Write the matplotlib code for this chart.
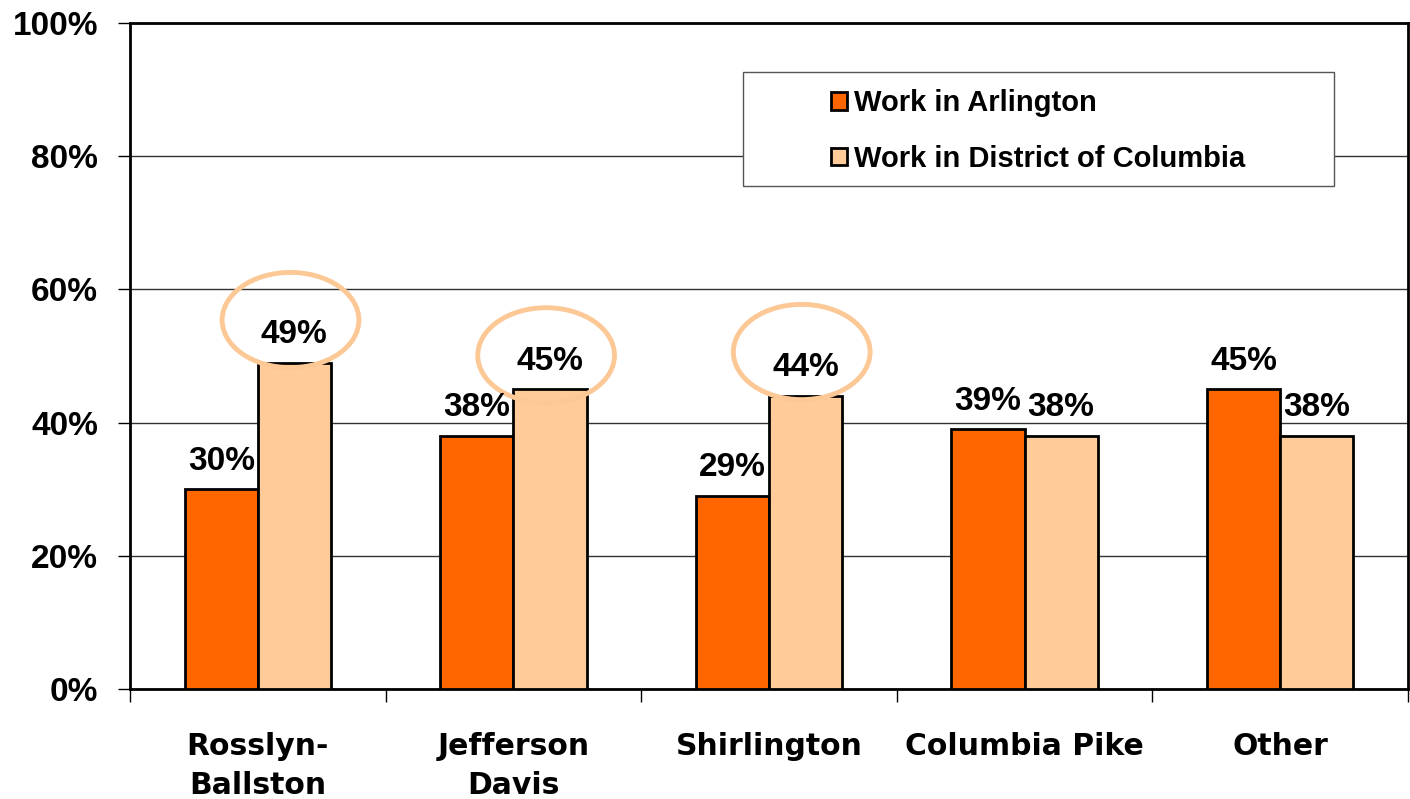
import matplotlib
matplotlib.use("Agg")
import matplotlib.pyplot as plt
from matplotlib.patches import Ellipse, Rectangle
import numpy as np

# data
categories = ["Rosslyn-\nBallston", "Jefferson\nDavis", "Shirlington", "Columbia Pike", "Other"]
work_arlington = [30, 38, 29, 39, 45]
work_dc = [49, 45, 44, 38, 38]
series_names = ["Work in Arlington", "Work in District of Columbia"]
circled = [0, 1, 2]  # DC labels that get an ellipse
ellipse_lift = [6.4, 5.1, 6.6]  # how far above the bar top each ellipse sits

dark = "#FF6600"
light = "#FFCC99"
num_font = "Liberation Sans"
cat_font = "DejaVu Sans"

fig = plt.figure(figsize=(14.1, 7.99), dpi=100)
ax = fig.add_axes([130 / 1410, 1 - 689 / 799, 1278 / 1410, 666 / 799])

x = np.arange(len(categories))
w = 0.286
b1 = ax.bar(x - w / 2, work_arlington, w, color=dark, edgecolor="black", linewidth=2, zorder=3,
            label=series_names[0])
b2 = ax.bar(x + w / 2, work_dc, w, color=light, edgecolor="black", linewidth=2, zorder=3,
            label=series_names[1])

# value labels above the bars
for bars, vals in [(b1, work_arlington), (b2, work_dc)]:
    for rect, v in zip(bars, vals):
        ax.annotate(f"{v}%", (rect.get_x() + rect.get_width() / 2, v),
                    xytext=(0, 9), textcoords="offset points", ha="center", va="bottom",
                    fontsize=24, fontweight="bold", family=num_font, zorder=5)

# highlight ellipses round the DC labels
for i, lift in zip(circled, ellipse_lift):
    e = Ellipse((x[i] + w / 2 - 0.015, work_dc[i] + lift), 0.535, 14.3, fill=False,
                edgecolor="#FCC896", linewidth=3.5, zorder=4, clip_on=False)
    ax.add_patch(e)

ax.set_xlim(-0.5, len(categories) - 0.5)
ax.set_ylim(0, 100)
ax.set_yticks(range(0, 101, 20))
ax.set_yticklabels([f"{t}%" for t in range(0, 101, 20)], fontsize=24, fontweight="bold",
                   family=num_font)
ax.yaxis.grid(True, color="#333333", linewidth=1, zorder=0)
ax.set_axisbelow(True)
ax.tick_params(axis="y", length=9, width=1, pad=14)

ax.set_xticks(np.arange(len(categories) + 1) - 0.5, minor=False)
ax.set_xticklabels([])
ax.set_xticks(x, minor=True)
ax.set_xticklabels(categories, minor=True, fontsize=21.5, fontweight="bold", family=cat_font,
                   linespacing=1.42)
ax.tick_params(axis="x", which="major", length=9, width=1)
ax.tick_params(axis="x", which="minor", length=0, pad=31)

for s in ax.spines.values():
    s.set_linewidth(2)
    s.set_color("black")

# legend box
fig.patches.append(Rectangle((743 / 1410, 1 - 186 / 799), 591 / 1410, 114 / 799,
                             transform=fig.transFigure, facecolor="white", edgecolor="#555555",
                             linewidth=1, zorder=6))
leg = fig.legend(handles=[b1, b2], loc="center", bbox_to_anchor=(1038 / 1410, 1 - 131 / 799),
                 frameon=False, prop={"family": num_font, "weight": "bold", "size": 21},
                 handlelength=0.55, handleheight=0.55, handletextpad=0.25, labelspacing=0.95,
                 borderpad=0)
leg.set_zorder(7)

fig.savefig("out.png", dpi=100)
